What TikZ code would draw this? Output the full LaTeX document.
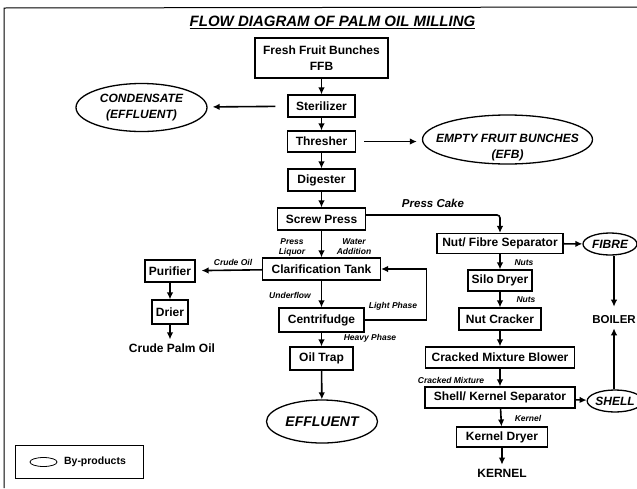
\documentclass[tikz,border=0pt]{standalone}
\usepackage{fontspec}
\setmainfont{Liberation Sans}
\usetikzlibrary{shapes.geometric,arrows.meta}
\begin{document}
\begin{tikzpicture}[x=1pt,y=-1pt,
  box/.style={draw, line width=1.1pt, inner sep=0pt, align=center,
    font=\fontsize{12}{16}\selectfont\bfseries},
  byprod/.style={draw, ellipse, line width=1.3pt, inner sep=0pt, align=center,
    font=\fontsize{12}{16}\selectfont\bfseries\itshape},
  lab/.style={inner sep=0pt, align=center,
    font=\fontsize{8.5}{10}\selectfont\bfseries\itshape},
  plain/.style={inner sep=0pt, font=\fontsize{12}{14}\selectfont\bfseries},
  tip/.style={-{Latex[length=7pt,width=6.5pt]}},
  flow/.style={line width=1.6pt, tip},
]
\useasboundingbox[fill=white] (0,0) rectangle (637,488);

% frame and title
\draw[line width=1pt] (4,488) -- (4,8) -- (637,7);
\node[inner sep=0pt, font=\fontsize{15}{18}\selectfont\bfseries\itshape] (title) at (332.5,21)
  {FLOW DIAGRAM OF PALM OIL MILLING};
\draw[line width=0.9pt] ([yshift=-2pt]title.base west) -- ([yshift=-2pt]title.base east);

% main process column
\node[box, minimum width=133pt, minimum height=40pt] (ffb) at (321.5,58) {Fresh Fruit Bunches\\FFB};
\node[box, minimum width=67pt, minimum height=22pt] (ster) at (321.5,106) {Sterilizer};
\node[box, minimum width=68pt, minimum height=21pt] (thr) at (321.5,141.5) {Thresher};
\node[box, minimum width=67pt, minimum height=22pt] (dig) at (321.5,180) {Digester};
\node[box, minimum width=88pt, minimum height=22pt] (screw) at (321.5,219) {Screw Press};
\node[box, minimum width=118pt, minimum height=22pt] (clar) at (321.5,269) {Clarification Tank};
\node[box, minimum width=85pt, minimum height=24pt] (cent) at (321.5,320) {Centrifudge};
\node[box, minimum width=63pt, minimum height=23pt] (trap) at (321.5,358.5) {Oil Trap};
\node[byprod, minimum width=111pt, minimum height=43pt, font=\fontsize{14}{16}\selectfont\bfseries\itshape]
  (effl) at (322,421.5) {EFFLUENT};

% by-products near the top
\node[byprod, minimum width=131pt, minimum height=48pt] (cond) at (141.5,107.5) {CONDENSATE\\(EFFLUENT)};
\node[byprod, minimum width=170pt, minimum height=49pt] (efb) at (507.5,139.5) {};
\node[inner sep=0pt, align=center, font=\fontsize{12}{16}\selectfont\bfseries\itshape]
  (efbt) at (507.5,148) {EMPTY FRUIT BUNCHES\\(EFB)};

% crude oil branch
\node[box, minimum width=50pt, minimum height=22pt] (puri) at (170,271) {Purifier};
\node[box, minimum width=36pt, minimum height=24pt] (drier) at (170,312) {Drier};
\node[plain] (cpo) at (172,348) {Crude Palm Oil};

% kernel recovery column
\node[box, minimum width=126pt, minimum height=20pt] (nfs) at (500,243.5) {Nut/ Fibre Separator};
\node[box, minimum width=64pt, minimum height=21pt] (silo) at (500,280.5) {Silo Dryer};
\node[box, minimum width=82pt, minimum height=22pt] (nutc) at (500,319) {Nut Cracker};
\node[box, minimum width=149pt, minimum height=21pt] (cmb) at (500,357.5) {Cracked Mixture Blower};
\node[box, minimum width=150pt, minimum height=21pt] (sks) at (500,397.5) {Shell/ Kernel Separator};
\node[box, minimum width=91pt, minimum height=20pt] (kd) at (502,437) {Kernel Dryer};
\node[plain] (kernel) at (502,473) {KERNEL};

% fuel by-products
\node[byprod, minimum width=54pt, minimum height=22pt] (fibre) at (610,244) {FIBRE};
\node[byprod, minimum width=46pt, minimum height=22pt] (shell) at (615,401) {SHELL};
\node[plain, font=\fontsize{11.5}{14}\selectfont\bfseries] (boiler) at (614,320) {BOILER};

% stream labels
\node[lab, font=\fontsize{11.5}{13}\selectfont\bfseries\itshape] (pcake) at (433,203) {Press Cake};
\node[lab] (pliq) at (292,247) {Press\\Liquor};
\node[lab] (water) at (354,247) {Water\\Addition};
\node[lab] (coil) at (233,262) {Crude Oil};
\node[lab] (under) at (290,295) {Underflow};
\node[lab] (light) at (393,306) {Light Phase};
\node[lab] (heavy) at (370,338) {Heavy Phase};
\node[lab] (nuts1) at (524,263) {Nuts};
\node[lab] (nuts2) at (526,300) {Nuts};
\node[lab] (cmix) at (451,380) {Cracked Mixture};
\node[lab] (kern) at (528,418) {Kernel};

% connectors
\draw[flow] (ffb) -- (ster);
\draw[flow] (ster) -- (thr);
\draw[flow] (thr) -- (dig);
\draw[flow] (dig) -- (screw);
\draw[flow] (screw) -- (clar);
\draw[flow] (clar) -- (cent);
\draw[flow] (cent) -- (trap);
\draw[flow] (trap) -- (effl);
\draw[flow, shorten <=12pt, shorten >=5pt] (ster) -- (cond);
\draw[flow, shorten <=8pt, shorten >=5pt] (thr) -- (efb.west |- thr);
\draw[flow, shorten >=6pt] (clar) -- (puri);
\draw[flow] (puri) -- (drier);
\draw[flow, shorten >=4pt] (drier) -- (drier |- cpo.north);
\draw[line width=1.6pt, rounded corners=3pt, tip]
  ([yshift=4pt]screw.east) -| (nfs.north);
\draw[line width=1.6pt, tip]
  (cent.east) -- ++(62,0) |- (clar.east);
\draw[flow] (nfs) -- (fibre);
\draw[flow] (nfs) -- (silo);
\draw[flow] (silo) -- (nutc);
\draw[flow] (nutc) -- (cmb);
\draw[flow] (cmb) -- (sks);
\draw[flow] (sks) -- (shell);
\draw[flow] (sks) -- (kd);
\draw[flow, shorten >=4pt] (kd) -- (kernel);
\draw[flow, shorten >=9pt] (fibre.south -| boiler.north) -- (boiler.north);
\draw[flow, shorten >=4pt] (shell.north -| boiler.south) -- (boiler.south);

% legend
\node[draw, line width=1pt, minimum width=128pt, minimum height=33pt] (legend) at (79,461.5) {};
\node[draw, ellipse, line width=0.8pt, minimum width=27pt, minimum height=9pt, inner sep=0pt] (lsym) at (43.5,462) {};
\node[inner sep=0pt, font=\fontsize{10.5}{12}\selectfont\bfseries] (ltext) at (95,462) {By-products};
\end{tikzpicture}
\end{document}
